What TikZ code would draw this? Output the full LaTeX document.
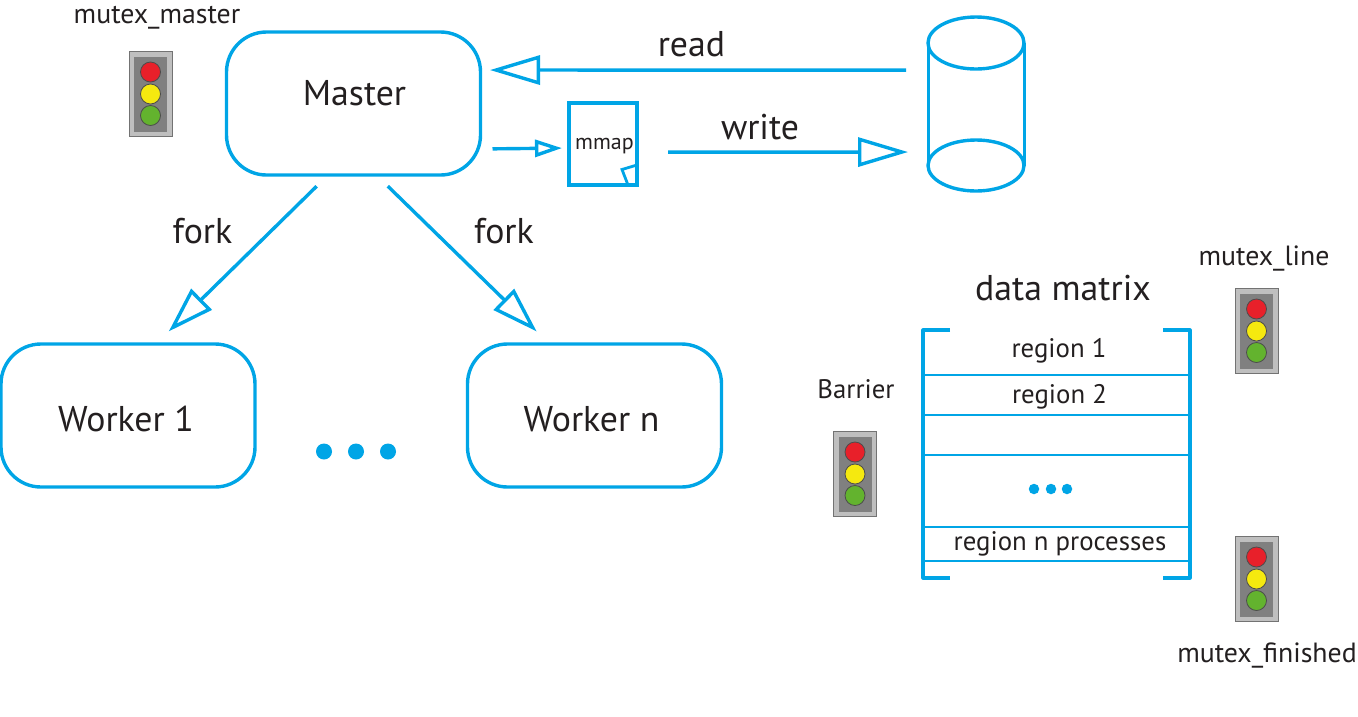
\documentclass[tikz,border=0pt]{standalone}
\usepackage{fontspec}
\setmainfont{PT Sans}
\usetikzlibrary{arrows.meta,calc}
\definecolor{flowblue}{HTML}{00A5E6}
\definecolor{inkgrey}{HTML}{231F20}
\definecolor{lampred}{HTML}{E8202A}
\definecolor{lampyellow}{HTML}{F5E90F}
\definecolor{lampgreen}{HTML}{63B32E}
\newcommand{\fsz}[1]{\fontsize{#1}{#1}\selectfont}
\tikzset{
  x=1pt,y=-1pt,
  lbl/.style={anchor=base,inner sep=0pt,text=inkgrey},
  bigl/.style={lbl,font=\fsz{35.8}},
  smalll/.style={lbl,font=\fsz{26.8}},
  mutexl/.style={lbl,font=\fsz{27.8}},
  procbox/.style={draw=flowblue,line width=3.4pt,rounded corners=40pt,minimum width=254pt,minimum height=143pt,inner sep=0pt,outer sep=0pt},
  flow/.style={draw=flowblue,line width=3.4pt,-{Triangle[open,length=50pt,width=29pt,line width=3.4pt]}},
  flowdiag/.style={draw=flowblue,line width=3.4pt,-{Triangle[open,length=46pt,width=29pt,line width=3.4pt]}},
  flowsmall/.style={draw=flowblue,line width=3.4pt,-{Triangle[open,length=27pt,width=17pt,line width=3.4pt]}},
  matrule/.style={draw=flowblue,line width=1.6pt},
  matframe/.style={draw=flowblue,line width=3.2pt,line join=round},
  bluedot/.style={circle,fill=flowblue,inner sep=0pt,outer sep=0pt},
  lamp/.style={circle,draw=black!70,line width=.8pt,minimum size=20pt,inner sep=0pt,outer sep=0pt},
  pics/trafficlight/.style={code={
    \node[draw=black!55,fill=black!25,line width=1pt,minimum width=43pt,minimum height=85pt,inner sep=0pt] (-body) at (0,0) {};
    \node[fill=black!50,minimum width=33pt,minimum height=75pt,inner sep=0pt] (-panel) at (0,0) {};
    \node[lamp,fill=lampred] (-r) at (0,-22) {};
    \node[lamp,fill=lampyellow] (-y) at (0,0) {};
    \node[lamp,fill=lampgreen] (-g) at (0,21.5) {};
  }}
}
\begin{document}
\begin{tikzpicture}
\useasboundingbox (0,0) rectangle (1358,716);
% process boxes
\node[procbox] (master) at (353.5,103.5) {};
\node[procbox] (w1) at (128,415.5) {};
\node[procbox] (wn) at (594.5,415.5) {};
\node[bigl] (masterl) at (354.5,105) {Master};
\node[bigl] (w1l) at (126,431) {Worker 1};
\node[bigl] (wnl) at (591.5,431) {Worker n};
% ellipsis
\node[bluedot,minimum size=16pt] (d1) at (324,451.5) {};
\node[bluedot,minimum size=16pt] (d2) at (356,451.5) {};
\node[bluedot,minimum size=16pt] (d3) at (388,451.5) {};
% disk
\node[minimum width=96pt,minimum height=174pt,inner sep=0pt,outer sep=0pt] (disk) at (976,104) {};
\draw[flowblue,line width=3.4pt] (disk.center |- 0,43) ellipse [x radius=48,y radius=26];
\draw[flowblue,line width=3.4pt] (disk.center |- 0,165.5) ellipse [x radius=48,y radius=25.5];
\draw[flowblue,line width=3pt] (disk.west |- 0,43) -- (disk.west |- 0,165.5) (disk.east |- 0,43) -- (disk.east |- 0,165.5);
% mmap page
\node[draw=flowblue,line width=3.2pt,minimum width=68pt,minimum height=82pt,inner sep=0pt,outer sep=0pt] (mmap) at (603,144) {};
\draw[flowblue,line width=2.8pt] (mmap.east |- 0,165) -- (622,169.5) -- (628,185);
\node[lbl,font=\fsz{22}] (mmapl) at (604.5,149) {mmap};
% connectors
\draw[flow,shorten <=22pt,shorten >=9.5pt]
  ($(disk.north west)!.305!(disk.south west)$) -- ($(master.north east)!.266!(master.south east)$);
\draw[flow,shorten <=31pt,shorten >=20pt]
  ($(mmap.north east)!.6!(mmap.south east)$) -- ($(disk.north west)!.776!(disk.south west)$);
\draw[flowsmall,shorten <=12pt,shorten >=7pt]
  ($(master.north east)!.818!(master.south east)$) -- ($(mmap.north west)!.549!(mmap.south west)$);
\draw[flowdiag,shorten <=16pt,shorten >=18pt]
  ($(master.south west)!.40!(master.south east)$) -- ($(w1.north west)!.61!(w1.north east)$);
\draw[flowdiag,shorten <=16pt,shorten >=18pt]
  ($(master.south west)!.59!(master.south east)$) -- ($(wn.north west)!.323!(wn.north east)$);
\node[bigl] (readl) at (691.5,56) {read};
\node[bigl] (writel) at (760,139) {write};
\node[bigl] (forka) at (202.5,243) {fork};
\node[bigl] (forkb) at (504,243) {fork};
% data matrix
\node[minimum width=267pt,minimum height=248pt,inner sep=0pt,outer sep=0pt] (dm) at (1056.5,454) {};
\draw[matframe] (950,330) -| (923,578) -- (950,578);
\draw[matframe] (1163,330) -| (1190,578) -- (1163,578);
\draw[matrule] (dm.west |- 0,375) -- (dm.east |- 0,375);
\draw[matrule] (dm.west |- 0,415) -- (dm.east |- 0,415);
\draw[matrule] (dm.west |- 0,455) -- (dm.east |- 0,455);
\draw[matrule] (dm.west |- 0,527) -- (dm.east |- 0,527);
\draw[matrule] (dm.west |- 0,561) -- (dm.east |- 0,561);
\node[bigl] (dml) at (1063,300) {data matrix};
\node[smalll] (r1) at (1059,357) {region 1};
\node[smalll] (r2) at (1059.5,403) {region 2};
\node[smalll] (rn) at (1060,550) {region n processes};
\node[bluedot,minimum size=10.5pt] (m1) at (1034,489) {};
\node[bluedot,minimum size=10.5pt] (m2) at (1051,489) {};
\node[bluedot,minimum size=10.5pt] (m3) at (1067,489) {};
% traffic lights
\pic (tlmaster) at (150.5,94) {trafficlight};
\pic (tlline) at (1256.5,331) {trafficlight};
\pic (tlbarrier) at (855,474) {trafficlight};
\pic (tlfin) at (1256.5,579) {trafficlight};
\node[mutexl] (lmaster) at (157,23) {mutex\_master};
\node[mutexl] (lline) at (1264,265) {mutex\_line};
\node[smalll] (lbarrier) at (856,398) {Barrier};
\node[mutexl] (lfin) at (1267,662) {mutex\_finished};
\end{tikzpicture}
\end{document}
